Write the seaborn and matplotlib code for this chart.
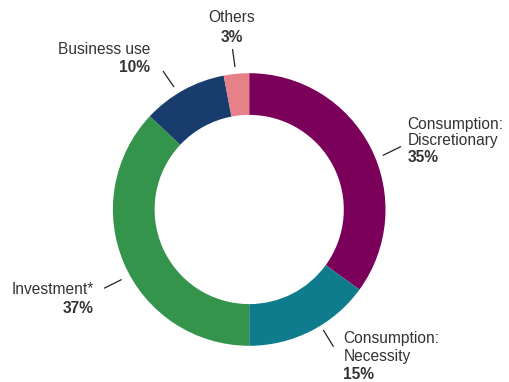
import matplotlib
matplotlib.use("Agg")
import matplotlib.pyplot as plt
import seaborn as sns

# ---- data ----
categories = ["Consumption:\nDiscretionary", "Consumption:\nNecessity", "Investment*", "Business use", "Others"]
shares = [35, 15, 37, 10, 3]
pct_labels = ["35%", "15%", "37%", "10%", "3%"]
colors = ["#7B005A", "#0E7C8C", "#35944B", "#183C6C", "#E6818A"]

sns.set_theme(style="white")
plt.rcParams["font.family"] = ["Liberation Sans", "DejaVu Sans"]

W, H = 509, 382
fig = plt.figure(figsize=(W / 100, H / 100), dpi=100)
ax = fig.add_axes([0, 0, 1, 1])

def py(y):  # pixel y (top-down) to data y
    return H - y

cx, cy, R = 249.2, py(209.5), 136.3
ax.pie(shares, colors=colors, startangle=90, counterclock=False,
       center=(cx, cy), radius=R,
       wedgeprops=dict(width=R * 0.306, linewidth=0))
ax.set_xlim(0, W)
ax.set_ylim(0, H)
ax.set_aspect("equal")
ax.axis("off")

txt_color = "#333333"
fs = 11.2
# layout: (text x, ha, first line y, line step, leader start, leader end)
layout = [
    (407.7, "left", 125.0, 16.0, (382.7, 155.5), (401.0, 146.5)),
    (343.3, "left", 338.3, 18.3, (323.3, 330.0), (333.5, 346.7)),
    (94.0, "right", 290.0, 18.3, (121.7, 279.5), (104.0, 288.3)),
    (150.0, "right", 50.0, 18.0, (174.0, 87.0), (163.0, 71.0)),
    (232.0, "center", 17.7, 19.6, (235.0, 67.0), (232.5, 49.0)),
]

for name, pct, (tx, ha, ty, step, p0, p1) in zip(categories, pct_labels, layout):
    lines = name.split("\n")
    for i, ln in enumerate(lines):
        ax.text(tx, py(ty + i * step), ln, ha=ha, va="center",
                fontsize=fs, color=txt_color)
    ax.text(tx, py(ty + len(lines) * step), pct, ha=ha, va="center",
            fontsize=fs, color=txt_color, fontweight="bold")
    ax.plot([p0[0], p1[0]], [py(p0[1]), py(p1[1])], color="#222222", lw=0.9,
            solid_capstyle="butt")

fig.savefig("out.png", dpi=100)
